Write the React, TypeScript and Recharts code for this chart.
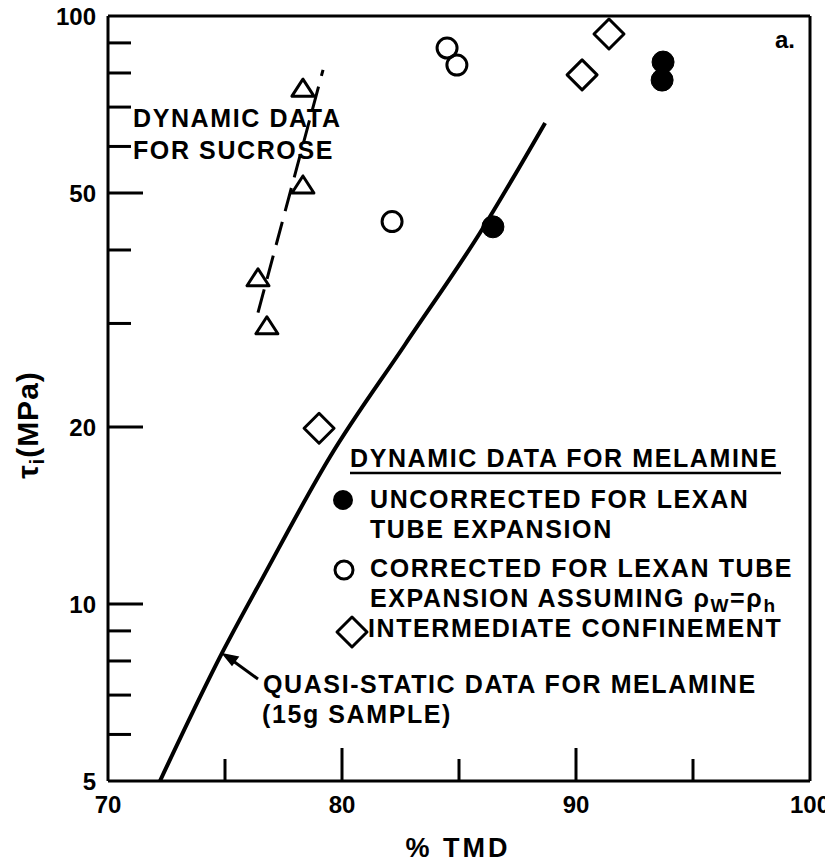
import React from 'react';
import { ComposedChart, XAxis, YAxis, Line, Scatter, ReferenceLine } from 'recharts';

// ---- axis ticks ----
const xTicks = [70, 75, 80, 85, 90, 95, 100];
const xLabelTicks = [70, 80, 90, 100];
const xMajorTicks = [80, 90];
const yTicks = [5, 6, 7, 8, 9, 10, 20, 30, 40, 50, 60, 70, 80, 90, 100];
const yLabelTicks = [5, 10, 20, 50, 100];
const yMajorTicks = [10, 20, 50];

// ---- series ----
// quasi-static data for melamine (15g sample), solid curve
const quasiStatic = [
  { x: 72.22, y: 5.0 },
  { x: 74.87, y: 8.25 },
  { x: 76.62, y: 11.1 },
  { x: 79.49, y: 17.8 },
  { x: 82.69, y: 27.6 },
  { x: 85.9, y: 42.8 },
  { x: 88.68, y: 65.8 },
];
// dashed trend through sucrose data
const sucroseFit = [
  { x: 76.41, y: 31.3 },
  { x: 79.19, y: 81.0 },
];
// dynamic data for sucrose (triangles)
const sucrose = [
  { x: 76.79, y: 29.5 },
  { x: 76.41, y: 35.6 },
  { x: 78.33, y: 51.2 },
  { x: 78.33, y: 74.8 },
];
// melamine: uncorrected for lexan tube expansion (filled circles)
const uncorrected = [
  { x: 86.45, y: 43.8 },
  { x: 93.68, y: 77.8 },
  { x: 93.72, y: 83.5 },
];
// melamine: corrected for lexan tube expansion (open circles)
const corrected = [
  { x: 82.14, y: 44.7 },
  { x: 84.91, y: 82.5 },
  { x: 84.49, y: 88.2 },
];
// melamine: intermediate confinement (diamonds)
const intermediate = [
  { x: 79.02, y: 19.9 },
  { x: 90.26, y: 79.4 },
  { x: 91.41, y: 93.2 },
];

const FONT = '"Liberation Sans", Arial, Helvetica, sans-serif';
const W = 833;
const H = 868;

const YTick = (props: any) => {
  const { x, y, payload } = props;
  const v = payload.value;
  const len = yMajorTicks.includes(v) ? 35 : v === 5 || v === 100 ? 0 : 23;
  return (
    <g>
      {len > 0 && <line x1={x} x2={x + len} y1={y} y2={y} stroke="#000" strokeWidth={3} />}
      {yLabelTicks.includes(v) && (
        <text x={x - 12} y={y + 9} textAnchor="end" fontFamily={FONT} fontWeight="bold" fontSize={24} fill="#000">
          {v}
        </text>
      )}
    </g>
  );
};

const XTick = (props: any) => {
  const { x, y, payload } = props;
  const v = payload.value;
  const len = xMajorTicks.includes(v) ? 33 : v === 70 || v === 100 ? 0 : 22;
  return (
    <g>
      {len > 0 && <line x1={x} x2={x} y1={y} y2={y - len} stroke="#000" strokeWidth={3} />}
      {xLabelTicks.includes(v) && (
        <text x={x} y={y + 32} textAnchor="middle" fontFamily={FONT} fontWeight="bold" fontSize={24} fill="#000">
          {v}
        </text>
      )}
    </g>
  );
};

const Triangle = (props: any) => {
  const { cx, cy } = props;
  return (
    <polygon
      points={`${cx},${cy - 11} ${cx - 11},${cy + 6} ${cx + 11},${cy + 6}`}
      fill="none"
      stroke="#000"
      strokeWidth={3}
      strokeLinejoin="round"
    />
  );
};
const FilledCircle = (props: any) => <circle cx={props.cx} cy={props.cy} r={11} fill="#000" stroke="#000" />;
const OpenCircle = (props: any) => (
  <circle cx={props.cx} cy={props.cy} r={10} fill="none" stroke="#000" strokeWidth={3} />
);
const Diamond = (props: any) => {
  const { cx, cy } = props;
  return (
    <polygon
      points={`${cx},${cy - 15} ${cx + 15},${cy} ${cx},${cy + 15} ${cx - 15},${cy}`}
      fill="none"
      stroke="#000"
      strokeWidth={3}
      strokeLinejoin="round"
    />
  );
};

const txt = {
  fontFamily: FONT,
  fontWeight: 'bold' as const,
  fontSize: 25,
  letterSpacing: 1.6,
  fill: '#000',
};

export default function App() {
  return (
    <div style={{ position: 'relative', width: W, height: H, margin: '-8px 0 0 -8px', background: '#fff' }}>
      <ComposedChart
        width={W}
        height={H}
        margin={{ top: 16, right: 23, left: 0, bottom: 0 }}
        style={{ overflow: 'visible' }}
      >
        <XAxis
          type="number"
          dataKey="x"
          domain={[70, 100]}
          ticks={xTicks}
          interval={0}
          height={87}
          tickSize={0}
          tickMargin={0}
          tickLine={false}
          axisLine={{ stroke: '#000', strokeWidth: 3 }}
          tick={<XTick />}
          allowDataOverflow
        />
        <YAxis
          type="number"
          dataKey="y"
          scale="log"
          domain={[5, 100]}
          ticks={yTicks}
          interval={0}
          width={108}
          tickSize={0}
          tickMargin={0}
          tickLine={false}
          axisLine={{ stroke: '#000', strokeWidth: 3 }}
          tick={<YTick />}
          allowDataOverflow
        />
        <ReferenceLine y={100} stroke="#000" strokeWidth={3} />
        <ReferenceLine x={100} stroke="#000" strokeWidth={3} />
        <Line
          data={quasiStatic}
          dataKey="y"
          type="monotone"
          stroke="#000"
          strokeWidth={4}
          dot={false}
          activeDot={false}
          isAnimationActive={false}
        />
        <Line
          data={sucroseFit}
          dataKey="y"
          type="linear"
          stroke="#000"
          strokeWidth={3}
          strokeDasharray="24 11"
          dot={false}
          activeDot={false}
          isAnimationActive={false}
        />
        <Scatter data={sucrose} dataKey="y" shape={<Triangle />} isAnimationActive={false} />
        <Scatter data={uncorrected} dataKey="y" shape={<FilledCircle />} isAnimationActive={false} />
        <Scatter data={corrected} dataKey="y" shape={<OpenCircle />} isAnimationActive={false} />
        <Scatter data={intermediate} dataKey="y" shape={<Diamond />} isAnimationActive={false} />
      </ComposedChart>

      <svg
        width={W}
        height={H}
        style={{ position: 'absolute', left: 0, top: 0, pointerEvents: 'none', overflow: 'visible' }}
      >
        {/* panel label */}
        <text x={775} y={48} {...txt} fontSize={24} letterSpacing={0}>
          a.
        </text>

        {/* sucrose annotation */}
        <text x={133} y={127} {...txt}>DYNAMIC DATA</text>
        <text x={133} y={159} {...txt}>FOR SUCROSE</text>

        {/* legend */}
        <text x={350} y={467} {...txt}>DYNAMIC DATA FOR MELAMINE</text>
        <line x1={350} x2={781} y1={473} y2={473} stroke="#000" strokeWidth={2.5} />
        <circle cx={343} cy={500} r={10} fill="#000" />
        <text x={370} y={508} {...txt}>UNCORRECTED FOR LEXAN</text>
        <text x={370} y={538} {...txt}>TUBE EXPANSION</text>
        <circle cx={344} cy={570} r={9} fill="none" stroke="#000" strokeWidth={3} />
        <text x={370} y={577} {...txt}>CORRECTED FOR LEXAN TUBE</text>
        <text x={370} y={607} {...txt}>
          EXPANSION ASSUMING ρ
          <tspan fontSize={19} dy={5}>W</tspan>
          <tspan dy={-5}>=ρ</tspan>
          <tspan fontSize={19} dy={5}>h</tspan>
        </text>
        <polygon
          points="352,617 367,632 352,647 337,632"
          fill="none"
          stroke="#000"
          strokeWidth={3}
          strokeLinejoin="round"
        />
        <text x={368} y={637} {...txt}>INTERMEDIATE CONFINEMENT</text>

        {/* quasi-static annotation with arrow */}
        <line x1={258} y1={679} x2={229} y2={658} stroke="#000" strokeWidth={3} />
        <polygon points="223,654 238,657 232,665" fill="#000" stroke="#000" strokeWidth={1.5} />
        <text x={263} y={693} {...txt}>QUASI-STATIC DATA FOR MELAMINE</text>
        <text x={262} y={723} {...txt}>(15g SAMPLE)</text>

        {/* axis titles */}
        <text x={458} y={857} textAnchor="middle" {...txt} fontSize={27} letterSpacing={3}>
          % TMD
        </text>
        <text
          x={38}
          y={425}
          textAnchor="middle"
          transform="rotate(-90 38 425)"
          {...txt}
          fontSize={30}
          letterSpacing={1}
        >
          τ<tspan fontSize={20} dy={6}>i</tspan>
          <tspan dy={-6}>(MPa)</tspan>
        </text>
      </svg>
    </div>
  );
}
